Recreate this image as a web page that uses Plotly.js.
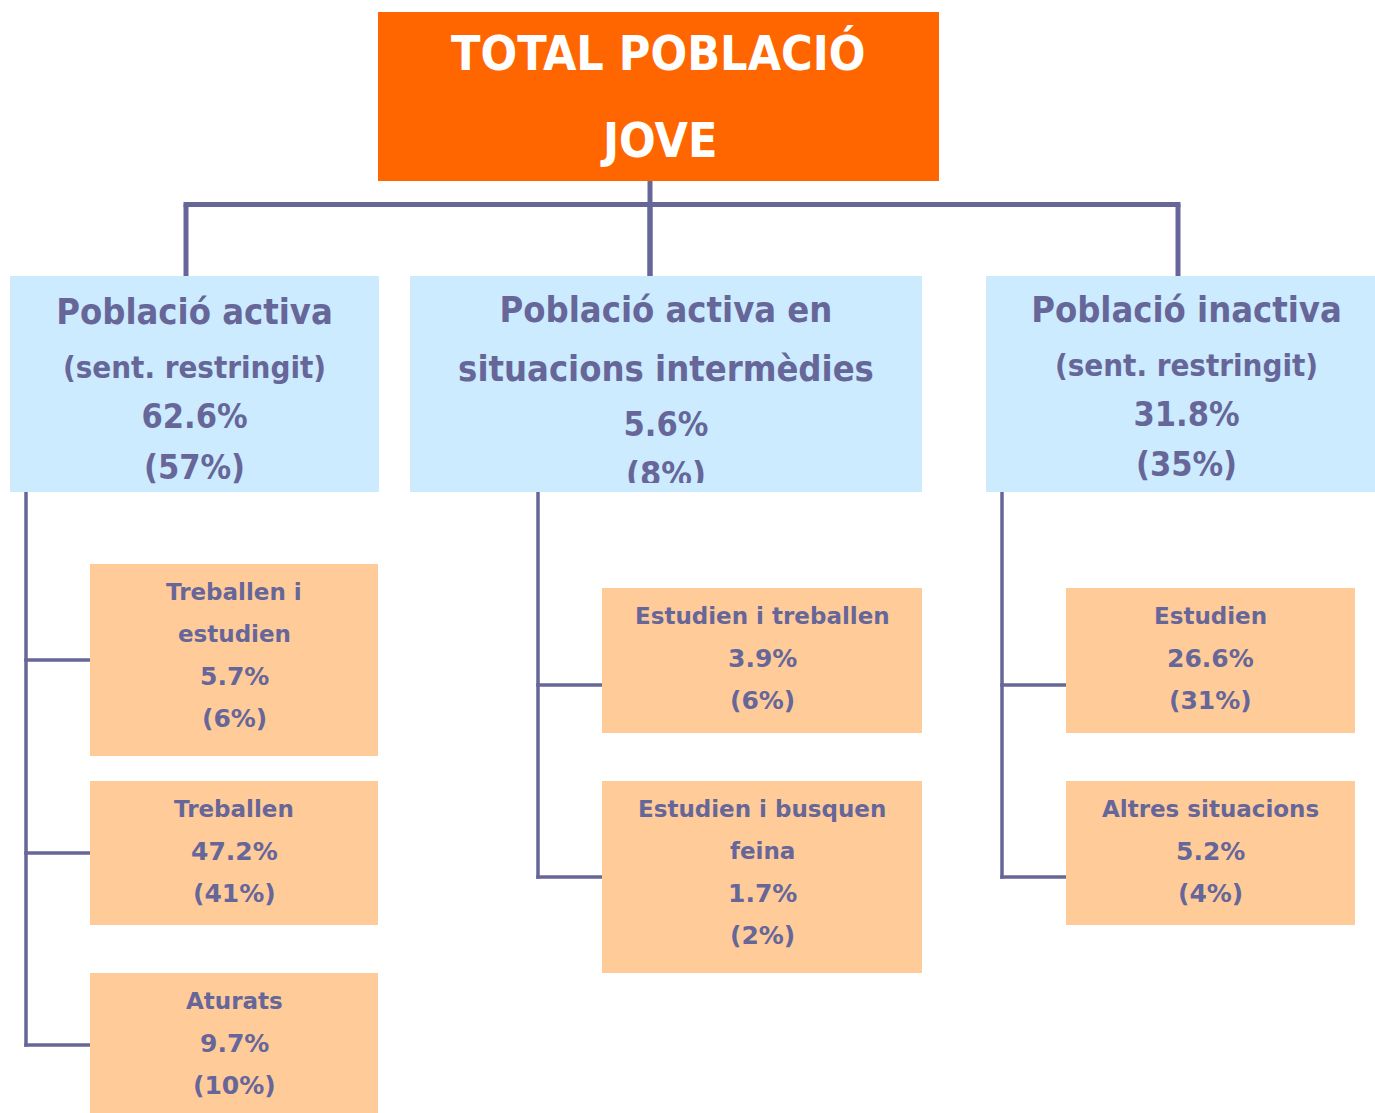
<!DOCTYPE html>
<html>
<head>
<meta charset="utf-8">
<script src="https://cdn.plot.ly/plotly-3.0.1.min.js"></script>
<style>
  html, body { margin: 0; padding: 0; background: #ffffff; }
  #chart { width: 1375px; height: 1113px; }
</style>
</head>
<body>
<div id="chart"></div>
<script>
// ---------------- DATA ----------------
const rootLines = ["TOTAL POBLACIÓ", "JOVE"];

const groupNames = [
  ["Població activa"],
  ["Població activa en", "situacions intermèdies"],
  ["Població inactiva"]
];
const groupQualifiers = ["(sent. restringit)", null, "(sent. restringit)"];
const groupShare = [62.6, 5.6, 31.8];
const groupShareAlt = [57, 8, 35];

const childNames = [
  [["Treballen i", "estudien"], ["Treballen"], ["Aturats"]],
  [["Estudien i treballen"], ["Estudien i busquen", "feina"]],
  [["Estudien"], ["Altres situacions"]]
];
const childShare = [
  [5.7, 47.2, 9.7],
  [3.9, 1.7],
  [26.6, 5.2]
];
const childShareAlt = [
  [6, 41, 10],
  [6, 2],
  [31, 4]
];

// ---------------- GEOMETRY / STYLE ----------------
const W = 1375, H = 1113;
const GEO = {
  root: { x0: 378, x1: 939, y0: 12, y1: 181, lineY: [53, 140] },
  busY: 204.5,
  groups: [
    { x0: 10,  x1: 379,  y0: 276, y1: 492, clipY: 492, stem: 186,  lineY: [311, 366, 415, 466] },
    { x0: 410, x1: 922,  y0: 276, y1: 492, clipY: 483, stem: 650,  lineY: [309, 368, 423, 473] },
    { x0: 986, x1: 1387, y0: 276, y1: 492, clipY: 492, stem: 1178, lineY: [309, 364, 413, 463] }
  ],
  traceTextOffset: 4,
  children: [
    { spineX: 26,   x0: 90,   x1: 378,  boxes: [[564, 756], [781, 925], [973, 1113]], joinY: [660, 853, 1045] },
    { spineX: 538,  x0: 602,  x1: 922,  boxes: [[588, 733], [781, 973]],              joinY: [685, 877] },
    { spineX: 1002, x0: 1066, x1: 1355, boxes: [[588, 733], [781, 925]],              joinY: [685, 877] }
  ],
  childFirstLine: 28,
  childLineStep: 42
};
const STYLE = {
  orange: "#FF6600",
  blue: "#CCEBFE",
  peach: "#FFCC99",
  ink: "#666699",
  line: "#666699",
  condensed: "'DejaVu Sans Condensed', 'DejaVu Sans', sans-serif",
  regular: "'DejaVu Sans', Verdana, sans-serif"
};

// ---------------- BUILD ----------------
const shapes = [];
const annotations = [];
const traces = [];

function rect(x0, x1, y0, y1, color) {
  shapes.push({ type: "rect", xref: "x", yref: "y", x0, x1, y0, y1,
    fillcolor: color, line: { width: 0 }, layer: "below" });
}
function seg(x0, y0, x1, y1, w) {
  shapes.push({ type: "line", xref: "x", yref: "y", x0, y0, x1, y1,
    line: { color: STYLE.line, width: w }, layer: "below" });
}
function label(x, y, text, size, family, color) {
  annotations.push({ x, y, xref: "x", yref: "y", text, showarrow: false,
    xanchor: "center", yanchor: "middle",
    font: { family, size, color, weight: "bold" } });
}
const pct = v => v.toFixed(1) + "%";
const pctAlt = v => "(" + v + "%)";

// Root
const R = GEO.root;
rect(R.x0, R.x1, R.y0, R.y1, STYLE.orange);
const rootCx = (R.x0 + R.x1) / 2;
rootLines.forEach((t, i) => label(rootCx, R.lineY[i], t, 48, STYLE.condensed, "#FFFFFF"));

// Top connectors
seg(GEO.groups[1].stem, R.y1, GEO.groups[1].stem, GEO.groups[1].y0, 5);
seg(GEO.groups[0].stem - 2.5, GEO.busY, GEO.groups[2].stem + 2.5, GEO.busY, 5);
GEO.groups.forEach(g => seg(g.stem, GEO.busY, g.stem, g.y0, 5));

const extraAxes = {};

// Groups
groupNames.forEach((names, gi) => {
  const g = GEO.groups[gi];
  rect(g.x0, g.x1, g.y0, g.y1, STYLE.blue);
  const cx = (g.x0 + g.x1) / 2;
  const lines = [];
  names.forEach(n => lines.push([n, 36]));
  if (groupQualifiers[gi]) lines.push([groupQualifiers[gi], 31]);
  lines.push([pct(groupShare[gi]), 34]);
  lines.push([pctAlt(groupShareAlt[gi]), 34]);

  // text of each box is drawn in its own clipped sub-area (text trace)
  const ax = gi + 2;
  const vx1 = Math.min(g.x1, W);
  extraAxes["xaxis" + ax] = { domain: [g.x0 / W, vx1 / W], range: [g.x0, vx1],
    visible: false, fixedrange: true, anchor: "y" + ax };
  extraAxes["yaxis" + ax] = { domain: [1 - g.clipY / H, 1 - g.y0 / H], range: [g.clipY, g.y0],
    visible: false, fixedrange: true, anchor: "x" + ax };
  lines.forEach((ln, li) => {
    traces.push({
      type: "scatter", mode: "text",
      x: [cx], y: [g.lineY[li] + GEO.traceTextOffset], text: [ln[0]],
      xaxis: "x" + ax, yaxis: "y" + ax,
      textposition: "middle center", cliponaxis: true, hoverinfo: "skip",
      textfont: { family: STYLE.condensed, size: ln[1], color: STYLE.ink, weight: "bold" }
    });
  });

  // Children
  const c = GEO.children[gi];
  const last = c.joinY[c.joinY.length - 1];
  seg(c.spineX, g.y1, c.spineX, last + 1.75, 3.5);
  childNames[gi].forEach((cn, ci) => {
    const [top, bottom] = c.boxes[ci];
    rect(c.x0, c.x1, top, bottom, STYLE.peach);
    seg(c.spineX - 1.75, c.joinY[ci], c.x0, c.joinY[ci], 3.5);
    const ccx = (c.x0 + c.x1) / 2;
    const cl = cn.map(t => [t, 23]).concat([[pct(childShare[gi][ci]), 25], [pctAlt(childShareAlt[gi][ci]), 25]]);
    cl.forEach((t, li) => label(ccx, top + GEO.childFirstLine + li * GEO.childLineStep, t[0], t[1], STYLE.regular, STYLE.ink));
  });
});

const layout = Object.assign({
  width: W, height: H,
  margin: { l: 0, r: 0, t: 0, b: 0, pad: 0 },
  paper_bgcolor: "#FFFFFF", plot_bgcolor: "rgba(0,0,0,0)",
  xaxis: { range: [0, W], visible: false, fixedrange: true, domain: [0, 1] },
  yaxis: { range: [H, 0], visible: false, fixedrange: true, domain: [0, 1] },
  showlegend: false,
  shapes, annotations
}, extraAxes);

Plotly.newPlot("chart", traces, layout, { staticPlot: true, displayModeBar: false });
</script>
</body>
</html>
